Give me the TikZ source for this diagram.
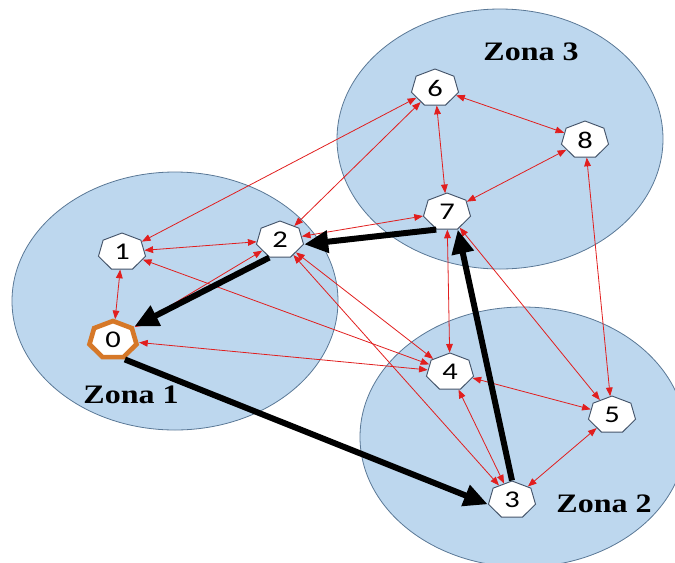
\documentclass[tikz,border=0pt]{standalone}
\usepackage{fontspec}
\setmainfont{Liberation Serif}
\setsansfont{Carlito}
\usetikzlibrary{shapes.geometric,arrows.meta}
\definecolor{zonefill}{RGB}{189,215,238}
\definecolor{zoneline}{RGB}{90,120,150}
\definecolor{hepline}{RGB}{68,84,106}
\definecolor{depotline}{RGB}{214,120,40}
\definecolor{linkred}{RGB}{225,30,30}

\begin{document}
\begin{tikzpicture}[x=0.75pt,y=-0.75pt,
  zone/.style={fill=zonefill,draw=zoneline,line width=0.6pt},
  zlab/.style={font=\fontsize{20}{22}\selectfont\bfseries,xscale=1.2},
  hept/.style={regular polygon,regular polygon sides=7,draw=hepline,line width=0.7pt,
    fill=white,minimum size=28.5pt,inner sep=0pt,xscale=1.27,
    font=\sffamily\fontsize{18}{20}\selectfont},
  depot/.style={hept,draw=depotline,line width=3.5pt},
  link/.style={linkred,line width=0.6pt,
    {Triangle[length=6.5pt,width=5pt]}-{Triangle[length=6.5pt,width=5pt]}},
  route/.style={black,line width=4.5pt,-{Triangle[length=18pt,width=16pt]}}]
\useasboundingbox (0,0) rectangle (675,562);
\clip (0,0) rectangle (675,562);
    \draw[zone] (175,301) ellipse [x radius=163, y radius=129];
\draw[zone] (500,139) ellipse [x radius=163, y radius=130];
\draw[zone] (523,437) ellipse [x radius=163, y radius=130];
\node[depot] at (113,340) (v0) {0};
\node[hept] at (122,252) (v1) {1};
\node[hept] at (280,240) (v2) {2};
\node[hept] at (512,500) (v3) {3};
\node[hept] at (450,372) (v4) {4};
\node[hept] at (612,415) (v5) {5};
\node[hept] at (435,88) (v6) {6};
\node[hept] at (447,212) (v7) {7};
\node[hept] at (585,140) (v8) {8};
\node[zlab] at (131,395) (lab1) {Zona 1};
\node[zlab] at (604,504) (lab2) {Zona 2};
\node[zlab] at (531,52) (lab3) {Zona 3};
\draw[link] (v1) -- (v6);
\draw[link] (v1) -- (v2);
\draw[link] (v1) -- (v0);
\draw[link] (v1) -- (v4);
\draw[link] (v0) -- (v2);
\draw[link] (v0) -- (v4);
\draw[link] (v2) -- (v6);
\draw[link] (v2) -- (v7);
\draw[link] (v2) -- (v4);
\draw[link] (v2) -- (v3);
\draw[link] (v6) -- (v7);
\draw[link] (v6) -- (v8);
\draw[link] (v8) -- (v7);
\draw[link] (v8) -- (v5);
\draw[link] (v7) -- (v4);
\draw[link] (v7) -- (v5);
\draw[link] (v4) -- (v5);
\draw[link] (v4) -- (v3);
\draw[link] (v3) -- (v5);
\draw[route] (v7.corner 4) -- (v2.corner 6);
\draw[route] (v2.corner 4) -- (v0.corner 7);
\draw[route] (v0.corner 5) -- (v3.corner 3);
\draw[route] (v3.corner 1) -- (v7.corner 5);
  \end{tikzpicture}
\end{document}
